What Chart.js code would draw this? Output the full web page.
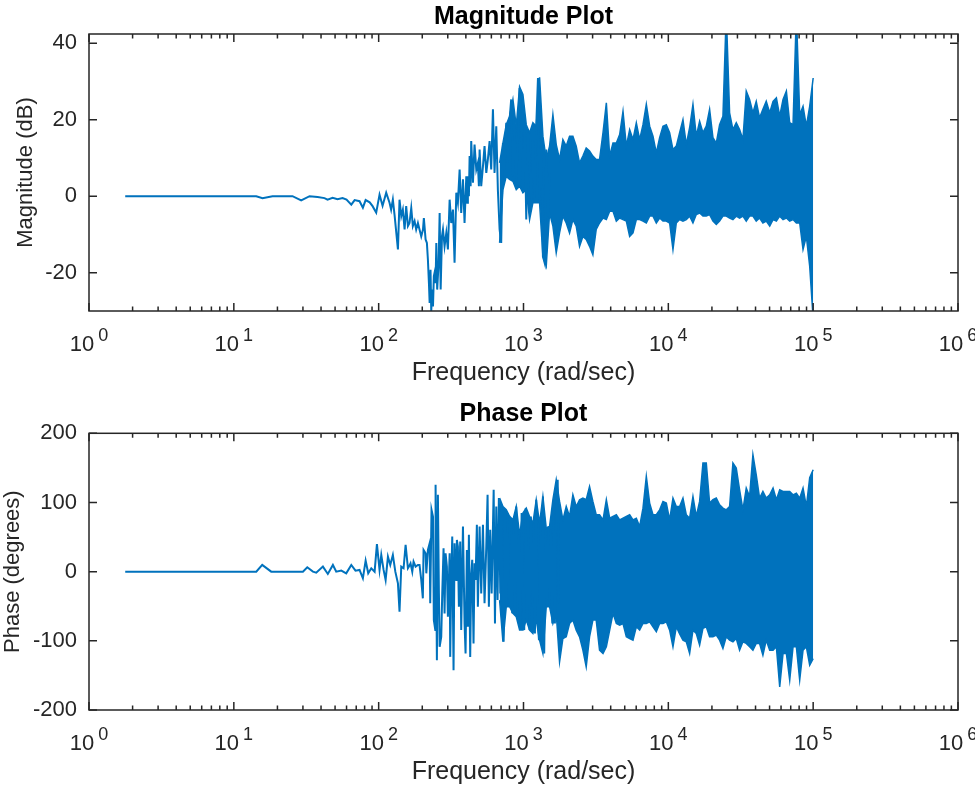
<!DOCTYPE html>
<html>
<head>
<meta charset="utf-8">
<script src="https://cdn.jsdelivr.net/npm/chart.js@4.4.1/dist/chart.umd.min.js"></script>
<style>
  html, body { margin: 0; padding: 0; background: #fff; }
  #wrap { position: relative; width: 975px; height: 790px; }
  .panel { position: absolute; left: 0; width: 975px; height: 395px; }
</style>
</head>
<body>
<div id="wrap">
  <div class="panel" style="top:0"><canvas id="magChart" width="975" height="395"></canvas></div>
  <div class="panel" style="top:395px"><canvas id="phaseChart" width="975" height="395"></canvas></div>
</div>
<script>
// frequency axis: decades shown as 10^n, minor ticks at 2..9 per decade
const xTickExps = [0, 1, 2, 3, 4, 5, 6];
const xMinorMults = [2, 3, 4, 5, 6, 7, 8, 9];
const magTicks = [-20, 0, 20, 40];
const phaseTicks = [-200, -100, 0, 100, 200];

// low / mid frequency trace, log10(rad/sec) and dB
const magLineLogW = [0.250, 1.155, 1.198, 1.267, 1.405, 1.465, 1.523, 1.578, 1.626, 1.647, 1.682, 1.716, 1.751, 1.778, 1.811, 1.834, 1.868, 1.891, 1.910, 1.938, 1.958, 1.983, 2.006, 2.027, 2.052, 2.075, 2.086, 2.098, 2.110,
  2.133, 2.144, 2.156, 2.167, 2.179, 2.190, 2.202, 2.213, 2.225, 2.236, 2.248, 2.259, 2.271, 2.282, 2.294, 2.306, 2.312, 2.324, 2.333, 2.340, 2.347, 2.352, 2.358, 2.363, 2.370, 2.375, 2.381, 2.386, 2.393, 2.398, 2.404, 2.414, 2.421, 2.428, 2.437, 2.444, 2.455, 2.467, 2.478, 2.490,
  2.501, 2.513, 2.524, 2.536, 2.547, 2.559, 2.570, 2.582, 2.593, 2.605, 2.612, 2.616, 2.623, 2.628, 2.635, 2.639, 2.651, 2.662, 2.674, 2.685, 2.692, 2.697, 2.708, 2.720, 2.731, 2.743, 2.754, 2.766, 2.777, 2.789, 2.800,
  2.812, 2.823, 2.835, 2.846, 2.858, 2.869, 2.881, 2.892, 2.904, 2.915, 2.927, 2.938, 2.950, 2.962, 2.973, 2.985, 2.996, 3.008, 3.019, 3.031, 3.042, 3.054, 3.065, 3.077, 3.088, 3.100, 3.111, 3.123, 3.134, 3.146, 3.157, 3.169, 3.180];
const magLineDb = [0, 0, -0.5, 0, 0, -1.1, 0, -0.2, -0.5, -0.9, -0.4, -0.8, -0.5, -0.9, -2.2, -1.0, -1.3, -3.0, -1.0, -1.6, -2.6, -4.3, 0.4, -2.5, 0.9, -1.7, -3.5, -0.9, -5.0,
  -13.9, -0.9, -5.2, -3.5, -8.7, -2.6, -7.8, -7.0, -3.1, -7.8, -6.5, -8.7, -7.0, -8.7, -10.5, -8.7, -5.7, -11.3, -12.2, -16.6, -22.7, -27.9, -19.2, -30.0, -24.4, -28.8, -20.9, -20.0, -22.7, -12.2, -24.4, -17.4, -4.4, -24.4, -10.5, -8.7, -13.1, -9.6, -13.9, -0.9,
  -7.0, -3.5, -17.4, 0.9, -1.7, 7.0, -4.4, 4.4, -7.0, 5.2, -1.7, 5.2, 0.0, 10.5, 2.6, 14.4, 3.5, 13.5, 7.0, 8.7, 2.6, 12.2, 2.6, 7.8, 13.1, 6.1, 9.6, 14.4, 7.0, 22.7, 6.1,
  18.3, 1.7, -8.7, -12.2, 13.9, 7.0, 19.2, 8.7, 20.0, 25.3, 5.2, 17.4, 4.4, 14.8, 28.3, 17.4, 1.7, 18.3, -6.1, 16.6, 8.7, -1.7, 14.8, -1.7, 18.3, 30.9, -1.7, 16.6, -15.7, -17.4, 12.2, -5.2, 6.1];

const phaseLineLogW = [0.250, 1.155, 1.196, 1.258, 1.477, 1.507, 1.546, 1.569, 1.615, 1.649, 1.684, 1.707, 1.742, 1.776, 1.811, 1.840, 1.868, 1.891, 1.910, 1.928, 1.949, 1.972, 1.988, 2.006, 2.018, 2.034, 2.048, 2.064, 2.080, 2.098, 2.115, 2.133, 2.144, 2.156, 2.172, 2.186, 2.202,
  2.209, 2.220, 2.232, 2.241, 2.255, 2.271, 2.282, 2.294, 2.305, 2.310, 2.324, 2.329, 2.340, 2.352, 2.356, 2.365, 2.375, 2.381, 2.391, 2.393, 2.402, 2.409, 2.416, 2.421, 2.432, 2.439, 2.448, 2.455, 2.462, 2.471, 2.478, 2.490, 2.494,
  2.501, 2.508, 2.517, 2.524, 2.536, 2.540, 2.547, 2.554, 2.563, 2.570, 2.582, 2.593, 2.600, 2.609, 2.616, 2.623, 2.632, 2.639, 2.646, 2.655, 2.662, 2.669, 2.678, 2.685, 2.697, 2.708, 2.720, 2.731, 2.743, 2.752, 2.761, 2.770, 2.780, 2.794,
  2.803, 2.812, 2.821, 2.830, 2.840, 2.846, 2.853, 2.863, 2.872, 2.881, 2.890, 2.899, 2.909, 2.916, 2.922, 2.932, 2.941, 2.950, 2.959, 2.968, 2.978, 2.987, 2.996, 3.005, 3.015, 3.024, 3.033, 3.042, 3.051, 3.061, 3.070, 3.079, 3.088,
  3.097, 3.107, 3.116, 3.125, 3.134, 3.143, 3.153, 3.162, 3.171, 3.180, 3.189, 3.199, 3.208, 3.217, 3.226, 3.236, 3.245];
const phaseLineDeg = [0, 0, 9.7, 0, 0, 6.3, 0, -1.4, 7.3, -3.3, 9.7, 0, 1.5, -2.4, 9.7, 1.5, 2.5, -9.6, 16.0, -2.4, 4.9, 0, 39.7, 2.5, 24.2, 2.5, -12.0, 21.8, 9.7, 24.2, 0, -16.9, -57.9, 7.3, 4.9, 38.7, 4.9,
  7.3, 12.1, 0, 14.5, 7.3, 9.7, 9.7, -12.0, -38.6, 31.4, 26.6, -2.4, 31.4, 41.1, -45.8, 89.4, 79.7, -70.0, -84.5, 125.6, -128.0, 111.1, -31.4, -108.7, -94.2, -31.4, 33.9, -60.3, 26.6, 7.3, -65.2, 26.6, -123.2,
  -12.0, 50.8, -142.5, 41.1, -12.0, 45.9, 36.3, -50.7, 43.5, -84.5, 65.3, -74.9, -118.4, 31.4, -79.7, 53.2, -123.2, -4.8, 17.0, -103.8, 12.1, -12.0, 67.7, -50.7, 65.3, -31.4, 67.7, -45.8, 36.3, 111.1, -50.7, 60.4, -31.4, 118.4,
  -74.9, 94.2, -41.1, 106.3, -31.4, 94.2, -7.2, -101.4, 89.4, -50.7, 84.6, -36.2, -50.7, 74.9, -60.3, 60.4, -31.4, 94.2, -65.2, 53.2, -84.5, 84.6, -41.1, -84.5, 91.8, -70.0, 50.8, -84.5, 79.7, -50.7, 70.1, -89.4, 103.9,
  -70.0, -99.0, 70.1, -70.0, 108.7, -118.4, 60.4, -41.1, 65.3, -50.7, 60.4, -74.9, 101.5, -74.9, 94.2, 132.9, -45.8];

// dense high frequency region: upper and lower edges of the trace
const bandLogW = [2.835, 2.858, 2.881, 2.904, 2.927, 2.950, 2.973, 2.996, 3.019, 3.042, 3.065, 3.088, 3.111, 3.134, 3.157, 3.180, 3.203, 3.226, 3.249, 3.272,
  3.295, 3.318, 3.341, 3.364, 3.387, 3.410, 3.433, 3.456, 3.479, 3.502, 3.525, 3.549, 3.572, 3.595, 3.618, 3.641, 3.664, 3.687, 3.710, 3.733,
  3.756, 3.779, 3.802, 3.825, 3.848, 3.871, 3.894, 3.917, 3.940, 3.963, 3.986, 4.009, 4.032, 4.055, 4.078, 4.101, 4.124, 4.147, 4.170, 4.193,
  4.216, 4.239, 4.262, 4.285, 4.308, 4.331, 4.354, 4.377, 4.400, 4.423, 4.446, 4.469, 4.492, 4.515, 4.538, 4.561, 4.584, 4.607, 4.630, 4.653,
  4.676, 4.700, 4.723, 4.746, 4.769, 4.792, 4.815, 4.838, 4.861, 4.884, 4.907, 4.930, 4.953, 4.976, 5.000];
const magHi = [8.7, 13.9, 18.7, 20.9, 25.3, 18.3, 28.6, 26.6, 18.7, 16.6, 19.2, 18.3, 31.1, 15.7, 9.6, 13.1, 21.3, 13.5, 9.6, 14.8,
  13.1, 15.7, 15.7, 13.1, 8.7, 10.5, 12.6, 11.8, 10.5, 9.6, 9.6, 16.6, 24.4, 10.5, 13.9, 13.9, 16.1, 22.2, 13.1, 17.4,
  14.8, 19.2, 14.8, 18.7, 24.0, 18.3, 15.7, 11.3, 15.3, 18.3, 18.7, 16.6, 12.2, 13.1, 16.6, 20.0, 13.5, 17.9, 24.0, 15.7,
  19.6, 16.6, 18.3, 22.7, 15.3, 13.9, 18.7, 20.9, 48, 21.8, 17.4, 19.2, 17.4, 14.8, 27.5, 25.3, 21.8, 24.8, 20.5, 22.7,
  24.8, 21.8, 24.8, 25.7, 20.9, 25.3, 27.5, 19.2, 18.7, 48, 21.3, 23.5, 18.3, 23.5, 30.9];
const magLo = [-12.2, 1.7, 5.2, 4.4, 3.9, 1.7, 2.6, 0.9, 1.7, -6.1, -1.7, -1.7, -1.7, -15.7, -18.3, -4.4, -7.8, -14.8, -9.6, -5.2,
  -7.0, -9.6, -6.1, -7.8, -13.1, -10.5, -11.3, -13.1, -15.3, -8.7, -7.0, -5.7, -6.1, -3.9, -3.9, -6.5, -5.7, -6.1, -6.5, -10.5,
  -9.6, -6.1, -6.1, -6.5, -7.0, -5.2, -5.2, -7.0, -5.7, -6.5, -6.5, -7.0, -13.9, -7.0, -6.1, -6.5, -6.1, -5.2, -7.0, -4.8,
  -4.4, -5.2, -5.2, -4.8, -6.5, -7.4, -6.5, -5.2, -5.2, -5.7, -6.1, -5.2, -5.7, -5.2, -6.5, -5.2, -5.2, -6.5, -5.7, -7.0,
  -6.5, -7.8, -6.1, -6.5, -5.2, -6.1, -5.7, -6.5, -6.1, -7.0, -7.0, -13.9, -10.5, -18.3, -32];
const phHi = [106.3, 94.2, 89.4, 80.0, 74.9, 94.2, 53.2, 84.6, 91.8, 79.7, 70.1, 103.9, 70.1, 108.7, 62.8, 65.3, 104.0, 132.9, 101.5, 74.9,
  94.2, 79.8, 111.1, 94.2, 104.0, 106.3, 104.0, 123.2, 101.5, 82.2, 82.2, 74.9, 104.0, 77.3, 79.8, 82.2, 74.9, 77.3, 79.8, 82.2,
  74.9, 77.3, 65.3, 91.8, 137.7, 99.1, 82.2, 82.2, 89.4, 101.5, 99.1, 74.9, 106.3, 94.2, 94.2, 106.3, 82.2, 77.3, 108.7, 79.8,
  101.5, 157.0, 157.0, 99.1, 104.0, 106.3, 96.7, 91.8, 89.4, 94.2, 157.0, 149.8, 118.4, 89.4, 120.8, 108.7, 169.1, 140, 106.3, 115.9,
  106.3, 111.1, 120.8, 104.0, 118.4, 115.9, 115.9, 115.9, 111.1, 113.5, 106.3, 120.8, 94.2, 135.8, 147.4];
const phLo = [-41.1, -101.4, -50.7, -50.7, -60.3, -65.2, -84.5, -84.5, -70.0, -84.5, -89.4, -70.0, -99.0, -118.3, -50.7, -50.7, -74.9, -60.3, -130.4, -96.6,
  -94.2, -74.9, -70.0, -84.5, -94.2, -113.5, -137.6, -94.2, -70.0, -70.0, -113.5, -118.3, -108.7, -84.5, -60.3, -74.9, -77.3, -74.9, -94.2, -96.6,
  -99.0, -79.7, -84.5, -74.9, -74.9, -72.5, -79.7, -86.9, -74.9, -74.9, -72.5, -84.5, -108.7, -79.7, -90.0, -99.0, -101.4, -118.3, -84.5, -89.3,
  -106.2, -82.1, -79.7, -94.2, -94.2, -91.8, -99.0, -111.1, -94.2, -99.0, -101.4, -96.6, -113.5, -101.4, -103.8, -108.7, -113.5, -103.8, -103.8, -120.7,
  -99.0, -113.5, -113.5, -108.7, -166.6, -118.3, -118.3, -156.9, -108.7, -108.7, -156.9, -113.5, -108.7, -135.2, -125.6];

const FONT = "'Liberation Sans', Arial, Helvetica, sans-serif";
const AXIS_COLOR = '#262626';
const LINE_COLOR = '#0072BD';

Chart.defaults.font.family = FONT;
Chart.defaults.color = AXIS_COLOR;

function toPoints(logW, vals) {
  return logW.map((w, i) => ({ x: Math.pow(10, w), y: vals[i] }));
}

// matlab style box, inward ticks and 10^n labels
const bodeAxes = {
  id: 'bodeAxes',
  afterDraw(chart) {
    const { ctx, chartArea: a, scales: { x, y } } = chart;
    const yTicks = chart.options.plugins.bodeAxes.yTicks;
    ctx.save();
    ctx.strokeStyle = AXIS_COLOR;
    ctx.lineWidth = 1.5;
    ctx.beginPath();
    xTickExps.forEach(e => {
      const mults = e < 6 ? [1].concat(xMinorMults) : [1];
      mults.forEach(m => {
        const px = x.getPixelForValue(m * Math.pow(10, e));
        const len = m === 1 ? 8 : 4.5;
        ctx.moveTo(px, a.bottom); ctx.lineTo(px, a.bottom - len);
        ctx.moveTo(px, a.top); ctx.lineTo(px, a.top + len);
      });
    });
    yTicks.forEach(v => {
      const py = y.getPixelForValue(v);
      ctx.moveTo(a.left, py); ctx.lineTo(a.left + 8, py);
      ctx.moveTo(a.right, py); ctx.lineTo(a.right - 8, py);
    });
    ctx.stroke();
    ctx.strokeRect(a.left, a.top, a.right - a.left, a.bottom - a.top);

    ctx.fillStyle = AXIS_COLOR;
    ctx.textAlign = 'left';
    ctx.textBaseline = 'alphabetic';
    xTickExps.forEach(e => {
      const px = x.getPixelForValue(Math.pow(10, e));
      ctx.font = '22px ' + FONT;
      const wb = ctx.measureText('10').width;
      ctx.font = '18px ' + FONT;
      const sup = String(e);
      const ws = ctx.measureText(sup).width;
      const x0 = px - (wb + 4 + ws) / 2;
      ctx.font = '22px ' + FONT;
      ctx.fillText('10', x0, a.bottom + 40);
      ctx.font = '18px ' + FONT;
      ctx.fillText(sup, x0 + wb + 4, a.bottom + 30);
    });
    ctx.restore();
  }
};

function makeBode(id, cfg) {
  return new Chart(document.getElementById(id), {
    type: 'line',
    data: {
      datasets: [
        { data: toPoints(cfg.lineW, cfg.lineV), borderColor: LINE_COLOR, borderWidth: 2, fill: false },
        { data: toPoints(bandLogW, cfg.hi), borderColor: LINE_COLOR, borderWidth: 1.5, fill: false },
        { data: toPoints(bandLogW, cfg.lo), borderColor: LINE_COLOR, borderWidth: 1.5, fill: '-1', backgroundColor: LINE_COLOR }
      ]
    },
    options: {
      responsive: false,
      animation: false,
      devicePixelRatio: 1,
      layout: { padding: { left: 0, right: 17, top: 0, bottom: 0 } },
      elements: { point: { radius: 0 }, line: { tension: 0 } },
      plugins: {
        legend: { display: false },
        tooltip: { enabled: false },
        title: {
          display: true, text: cfg.title, color: '#000', fullSize: false,
          font: { size: 25, weight: 'bold', lineHeight: 1.2 },
          padding: cfg.titlePad
        },
        bodeAxes: { yTicks: cfg.ticks }
      },
      scales: {
        x: {
          type: 'logarithmic', min: 1, max: 1e6,
          ticks: { display: false },
          grid: { display: false },
          border: { display: false },
          title: { display: true, text: 'Frequency (rad/sec)', font: { size: 25, lineHeight: 1.2 }, padding: { top: 0, bottom: cfg.xTitlePad } },
          afterFit: s => { s.height = cfg.xHeight; }
        },
        y: {
          min: cfg.min, max: cfg.max,
          afterBuildTicks: s => { s.ticks = cfg.ticks.map(v => ({ value: v })); },
          ticks: { font: { size: 22 }, padding: 12, callback: v => String(v) },
          grid: { display: false, drawTicks: false },
          border: { display: false },
          title: { display: true, text: cfg.yLabel, font: { size: 22, lineHeight: 1.2 }, padding: { top: cfg.yTitleLeft, bottom: 0 } },
          afterFit: s => { s.width = 89; }
        }
      }
    },
    plugins: [bodeAxes]
  });
}

makeBode('magChart', {
  title: 'Magnitude Plot', yLabel: 'Magnitude (dB)',
  lineW: magLineLogW, lineV: magLineDb, hi: magHi, lo: magLo,
  min: -30, max: 42.4, ticks: magTicks,
  titlePad: { top: 2, bottom: 2 }, xHeight: 84, xTitlePad: 7, yTitleLeft: 13
});

makeBode('phaseChart', {
  title: 'Phase Plot', yLabel: 'Phase (degrees)',
  lineW: phaseLineLogW, lineV: phaseLineDeg, hi: phHi, lo: phLo,
  min: -200, max: 200, ticks: phaseTicks,
  titlePad: { top: 4, bottom: 4.3 }, xHeight: 80, xTitlePad: 3, yTitleLeft: 0
});
</script>
</body>
</html>
